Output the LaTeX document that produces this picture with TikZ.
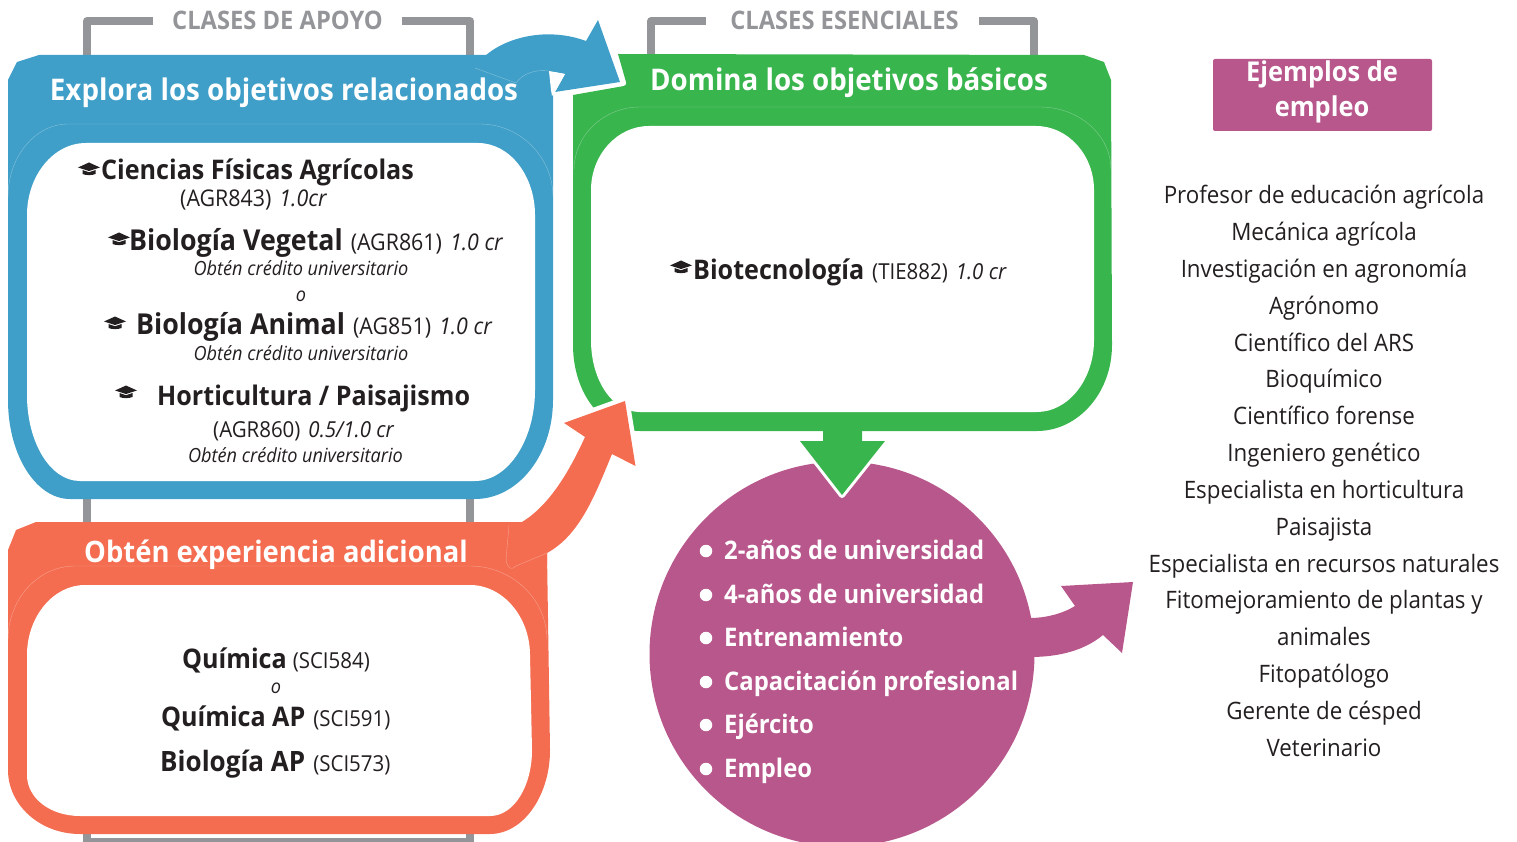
\documentclass[tikz,border=0pt]{standalone}
\usepackage{fontspec}
\setmainfont[FakeStretch=0.93]{Open Sans}
\definecolor{cblue}{HTML}{3F9FC8}
\definecolor{cgreen}{HTML}{39B54E}
\definecolor{corange}{HTML}{F46D50}
\definecolor{cpurple}{HTML}{B8578B}
\definecolor{cgray}{HTML}{939598}
\definecolor{cdark}{HTML}{231F20}
\newcommand{\fs}[1]{\fontsize{#1}{#1}\selectfont}
\newcommand{\hd}[1]{{\fs{27}\bfseries #1}}
\newcommand{\hdb}[1]{{\fs{28.8}\bfseries #1}}
\newcommand{\rg}[1]{{\fs{22}#1}}
\newcommand{\itl}[1]{{\fs{22}\itshape #1}}
\newcommand{\rgb}[1]{{\fs{23}#1}}
\newcommand{\itb}[1]{{\fs{23}\itshape #1}}
\newcommand{\gp}{\hspace{8pt}}
\tikzset{
  x=1pt,y=-1pt,
  txt/.style={inner sep=0pt,anchor=base,text=cdark},
  txtl/.style={inner sep=0pt,anchor=base west,text=cdark},
  band/.style={inner sep=0pt,anchor=base,text=white,font=\fs{29.8}\bfseries},
  cls/.style={inner sep=0pt,anchor=base,text=cgray,font=\fs{25.5}\bfseries},
  uni/.style={txt,font=\fs{19.5}\itshape},
  job/.style={txt,font=\fs{24}},
  opt/.style={inner sep=0pt,anchor=base west,text=white,font=\fs{25.6}\bfseries},
  bul/.style={circle,fill=white,inner sep=0pt,minimum size=12.5pt},
  seam/.style={line width=0.4pt,opacity=.35,white},
  hat/.pic={
    \fill[cdark] (-11,-1.5) -- (0,-6.5) -- (11,-1.5) -- (0,2) -- cycle;
    \fill[cdark] (-6.5,1) -- (0,3.2) -- (6.5,1) -- (6.5,5) .. controls (3,6.5) and (-3,6.5) .. (-6.5,5) -- cycle;
  }
}
\begin{document}
\begin{tikzpicture}
\useasboundingbox (0,0) rectangle (1517,842);
% gray brackets
\draw[cgray,line width=7.5pt,line join=round] (153,21) -- (87,21) -- (87,842) -- (470,842) -- (470,21) -- (402,21);
\draw[cgray,line width=7.5pt,line join=round] (706,21) -- (651,21) -- (651,70);
\draw[cgray,line width=7.5pt,line join=round] (979,21) -- (1034,21) -- (1034,70);
% blue box
\fill[cblue] (39,55) -- (553,55) -- (553,400) .. controls (553,455) and (518,499) .. (475,499) -- (70,499) .. controls (36,499) and (8,455) .. (8,400) -- (8,80) -- (17,62) -- cycle;
\draw[seam] (8,197) .. controls (8,157) and (35,124) .. (68,124) -- (480,124) .. controls (520,124) and (553,157) .. (553,197);
\fill[white] (27,215) .. controls (27,176) and (53,143) .. (86,143) -- (478,143) .. controls (510,143) and (535,176) .. (535,215) -- (535,390) .. controls (535,440) and (508,481) .. (475,481) -- (80,481) .. controls (50,481) and (27,442) .. (27,395) -- cycle;
% green box
\fill[cgreen] (618,54) -- (1084,55) -- (1104,62) -- (1111,80) -- (1112,345) .. controls (1112,393) and (1078,431) .. (1037,431) -- (640,431) .. controls (602,431) and (573,393) .. (573,345) -- (573,95) -- (624,86) .. controls (626,85) and (627,84) .. (626,82) -- cycle;
\draw[seam] (574,170) .. controls (574,135) and (604,107) .. (640,107) -- (1040,107) .. controls (1079,107) and (1111,135) .. (1111,170);
\fill[white] (591,190) .. controls (591,155) and (617,126) .. (649,126) -- (1036,126) .. controls (1068,126) and (1094,155) .. (1094,190) -- (1094,340) .. controls (1094,380) and (1068,412) .. (1037,412) -- (640,412) .. controls (612,412) and (591,380) .. (591,340) -- cycle;
% orange box
\fill[corange] (36,522) -- (522,522) -- (547,553) -- (550,750) .. controls (550,796) and (523,834) .. (490,834) -- (80,834) .. controls (40,834) and (8,805) .. (8,770) -- (8,550) -- (16,530) -- cycle;
\draw[seam] (8,640) .. controls (8,599) and (38,566) .. (75,566) -- (470,566) .. controls (512,566) and (547,599) .. (547,640);
\fill[white] (27,655) .. controls (27,617) and (53,585) .. (85,585) -- (470,585) .. controls (503,585) and (530,617) .. (530,655) -- (532,750) .. controls (532,786) and (514,816) .. (490,816) -- (80,816) .. controls (50,816) and (27,798) .. (27,775) -- cycle;
% blue arrow
\fill[cblue] (475,68) .. controls (490,42) and (540,24) .. (586,41) -- (598,20) -- (620,82) -- (555,92) -- (565,74) -- (549,71) .. controls (535,69) and (522,74) .. (516,83) -- cycle;
\fill[white] (549,71) -- (565,74) -- (555,92) -- (552,96) -- (551,90) -- cycle;
\draw[seam] (475,68) -- (516,83) .. controls (522,74) and (535,69) .. (549,71);
% orange arrow
\path[draw=white,line width=9pt,miter limit=10] (564,423) -- (625,401) -- (635.5,466);
\fill[corange] (500,522) -- (522,522) .. controls (550,505) and (570,470) .. (585,437) -- (564,423) -- (625,401) -- (635.5,466) -- (612,454) .. controls (595,495) and (580,535) .. (547,553) -- (547,565) -- (500,565) -- cycle;
\draw[seam] (509,525) -- (506,560) .. controls (508,570) and (512,570) .. (516,566) -- (547,553);
% circle
\node[circle,fill=cpurple,inner sep=0pt,minimum size=385pt] (goal) at (842,654) {};
% purple arrow
\fill[cpurple] (1030,618) .. controls (1045,618) and (1062,614) .. (1075,606) -- (1061,586) -- (1133,582) -- (1122,653) -- (1103,635) .. controls (1085,650) and (1060,657) .. (1030,657) -- cycle;
% green arrow
\draw[white,line width=6pt,line join=round] (800,441) -- (842,495) -- (885,441);
\fill[cgreen] (823,420) -- (862,420) -- (862,441) -- (885,441) -- (842,495) -- (800,441) -- (823,441) -- cycle;
% bullets
\foreach \i/\yy in {a/551,b/595,c/638,d/682,e/725,f/769} \node[bul] (bul\i) at (706,\yy) {};
\begin{scope}[yshift=-1pt]
% header texts
\node[cls] (cA) at (277.5,29) {CLASES DE APOYO};
\node[cls] (cB) at (844.5,29) {CLASES ESENCIALES};
\node[band] (tA) at (284,100) {Explora los objetivos relacionados};
\node[band] (tB) at (849,90) {Domina los objetivos básicos};
\node[band,font=\fs{29.5}\bfseries] (tC) at (276,561) {Obtén experiencia adicional};
% blue text
\pic at (89,168) {hat};
\node[txtl] (a1) at (101,179) {\hd{Ciencias Físicas Agrícolas}};
\node[txtl] (a2) at (180,205.5) {\rgb{(AGR843)}\gp\itb{1.0cr}};
\pic at (119,238) {hat};
\node[txtl] (a3) at (129,249.5) {\hdb{Biología Vegetal}\gp\rgb{(AGR861)}\gp\itb{1.0 cr}};
\node[uni] (a4) at (301,275) {Obtén crédito universitario};
\node[uni] (a5) at (301,300.5) {o};
\pic at (115,322) {hat};
\node[txtl] (a6) at (136,333.5) {\hdb{Biología Animal}\gp\rgb{(AG851)}\gp\itb{1.0 cr}};
\node[uni] (a7) at (301,359) {Obtén crédito universitario};
\pic at (126,391) {hat};
\node[txtl] (a8) at (157,404.5) {\hd{Horticultura / Paisajismo}};
\node[txtl] (a9) at (213,436.5) {\rg{(AGR860)}\gp\itl{0.5/1.0 cr}};
\node[uni] (a10) at (295.5,461) {Obtén crédito universitario};
% orange text
\node[txtl] (b1) at (182,667.5) {\hd{Química}\hspace{6pt}\rg{(SCI584)}};
\node[uni] (b2) at (276,692.5) {o};
\node[txtl] (b3) at (161,725.5) {\hd{Química AP}\gp\rg{(SCI591)}};
\node[txtl] (b4) at (160,770.5) {{\fs{28}\bfseries Biología AP}\gp\rg{(SCI573)}};
% green text
\pic at (681,266) {hat};
\node[txtl] (g1) at (693,278.5) {\hd{Biotecnología}\gp\rg{(TIE882)}\gp\itl{1.0 cr}};
% options
\node[opt] (o1) at (724,558.5) {2-años de universidad};
\node[opt] (o2) at (724,602.5) {4-años de universidad};
\node[opt] (o3) at (724,645.5) {Entrenamiento};
\node[opt] (o4) at (724,689.5) {Capacitación profesional};
\node[opt] (o5) at (724,732.5) {Ejército};
\node[opt] (o6) at (724,776.5) {Empleo};
\end{scope}
% jobs
\node[draw=none,fill=cpurple,rounded corners=2pt,minimum width=219pt,minimum height=72pt,inner sep=0pt] (jobbox) at (1322.5,95) {};
\begin{scope}[yshift=-1pt]
\node[inner sep=0pt,anchor=base,text=white,font=\fs{27.3}\bfseries] (j1) at (1322,81) {Ejemplos de};
\node[inner sep=0pt,anchor=base,text=white,font=\fs{27.3}\bfseries] (j2) at (1322,116) {empleo};
\node[job] (l1) at (1324,202.5) {Profesor de educación agrícola};
\node[job] (l2) at (1324,239.5) {Mecánica agrícola};
\node[job] (l3) at (1324,276.5) {Investigación en agronomía};
\node[job] (l4) at (1324,313.5) {Agrónomo};
\node[job] (l5) at (1324,350.5) {Científico del ARS};
\node[job] (l6) at (1324,386.5) {Bioquímico};
\node[job] (l7) at (1324,423.5) {Científico forense};
\node[job] (l8) at (1324,460.5) {Ingeniero genético};
\node[job] (l9) at (1324,497.5) {Especialista en horticultura};
\node[job] (l10) at (1324,534.5) {Paisajista};
\node[job] (l11) at (1324,571.5) {Especialista en recursos naturales};
\node[job] (l12) at (1324,607.5) {Fitomejoramiento de plantas y};
\node[job] (l13) at (1324,644.5) {animales};
\node[job] (l14) at (1324,681.5) {Fitopatólogo};
\node[job] (l15) at (1324,718.5) {Gerente de césped};
\node[job] (l16) at (1324,755.5) {Veterinario};
\end{scope}
\end{tikzpicture}
\end{document}
